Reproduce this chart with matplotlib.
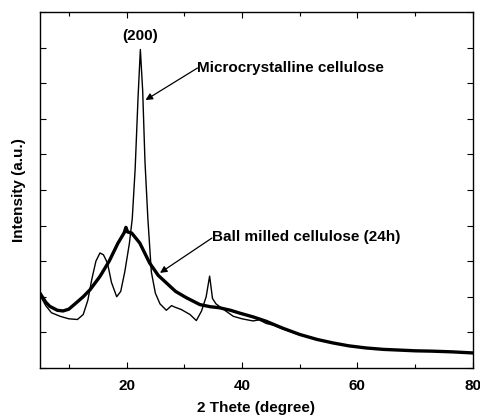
import matplotlib
matplotlib.use('Agg')
import matplotlib.pyplot as plt

# XRD patterns (2 theta in degree, intensity in a.u.)
mcc_x = [5.0, 6.0, 7.0, 8.5, 10.0, 11.5, 12.5, 13.3, 14.0, 14.7, 15.4, 16.0, 16.7, 17.4,
         18.3, 19.0, 19.7, 20.5, 21.0, 21.5, 22.0, 22.4, 22.8, 23.2, 23.7, 24.3, 25.0, 25.8,
         26.9, 27.8, 28.5, 29.5, 31.0, 32.1, 33.0, 33.8, 34.4, 34.9, 35.5, 36.5, 38.5, 40.0,
         41.9, 43.0, 44.2, 45.5, 47.0, 50.0, 53.0, 55.8, 58.5, 61.5, 64.5, 67.3, 70.0, 73.0,
         76.5, 80.0]
mcc_y = [2.05, 1.75, 1.55, 1.45, 1.38, 1.36, 1.50, 1.90, 2.50, 3.00, 3.23, 3.18, 2.95, 2.40,
         2.00, 2.15, 2.70, 3.50, 4.20, 5.60, 7.60, 8.95, 7.80, 5.80, 4.20, 2.70, 2.10, 1.80,
         1.62, 1.75, 1.70, 1.64, 1.50, 1.33, 1.60, 2.00, 2.58, 1.95, 1.80, 1.68, 1.45, 1.38,
         1.32, 1.35, 1.25, 1.20, 1.10, 0.93, 0.80, 0.70, 0.62, 0.56, 0.52, 0.50, 0.48, 0.47,
         0.45, 0.42]

ball_x = [5.0, 6.0, 6.7, 8.0, 9.0, 10.0, 11.3, 12.5, 13.7, 15.4, 17.0, 18.5, 19.6, 19.9,
          20.2, 20.9, 22.3, 24.0, 25.5, 26.9, 28.5, 30.4, 32.7, 34.5, 36.1, 38.0, 39.6, 42.0,
          44.2, 47.0, 50.0, 53.0, 55.8, 58.5, 61.5, 64.5, 67.3, 70.0, 73.0, 76.5, 80.0]
ball_y = [2.10, 1.85, 1.73, 1.62, 1.60, 1.65, 1.83, 2.00, 2.20, 2.57, 3.00, 3.50, 3.80, 3.95,
          3.82, 3.79, 3.51, 2.95, 2.60, 2.39, 2.15, 1.97, 1.78, 1.72, 1.69, 1.62, 1.54, 1.43,
          1.31, 1.12, 0.94, 0.80, 0.70, 0.62, 0.56, 0.52, 0.50, 0.48, 0.47, 0.45, 0.42]

plt.rcParams['font.family'] = ['Liberation Sans', 'DejaVu Sans']
plt.rcParams['font.weight'] = 'bold'

fig = plt.figure(figsize=(4.81, 4.19), dpi=100)
ax = fig.add_axes([0.083, 0.122, 0.9, 0.849])

ax.plot(mcc_x, mcc_y, color='k', lw=1.0)
ax.plot(ball_x, ball_y, color='k', lw=2.4)

ax.set_xlim(5, 80)
ax.set_ylim(0, 10)
ax.set_xticks([20, 40, 60, 80])
ax.set_xticks([10, 30, 50, 70], minor=True)
ax.set_yticks(range(0, 11))
ax.set_yticklabels([])
ax.tick_params(which='both', direction='in', top=True, right=True, labelsize=11, width=0.8)
ax.tick_params(which='major', length=4, pad=8)
ax.tick_params(which='minor', length=3)
for lbl in ax.get_xticklabels():
    lbl.set_fontweight('bold')
for sp in ax.spines.values():
    sp.set_linewidth(1.0)

ax.set_xlabel('2 Thete (degree)', fontsize=11, fontweight='bold', labelpad=6)
ax.set_ylabel('Intensity (a.u.)', fontsize=11, fontweight='bold', labelpad=2)

ax.text(22.4, 9.12, '(200)', ha='center', va='bottom', fontsize=11, fontweight='bold')

# labels with arrows pointing at the curves
ax.text(32.3, 8.43, 'Microcrystalline cellulose', fontsize=11, fontweight='bold',
        va='center', ha='left')
ax.annotate('', xy=(23.3, 7.53), xytext=(32.3, 8.43),
            arrowprops=dict(arrowstyle='-|>', color='k', lw=0.9, shrinkA=0, shrinkB=0))
ax.text(34.8, 3.68, 'Ball milled cellulose (24h)', fontsize=11, fontweight='bold',
        va='center', ha='left')
ax.annotate('', xy=(25.8, 2.67), xytext=(34.8, 3.65),
            arrowprops=dict(arrowstyle='-|>', color='k', lw=0.9, shrinkA=0, shrinkB=0))

fig.savefig('out.png', dpi=100)
